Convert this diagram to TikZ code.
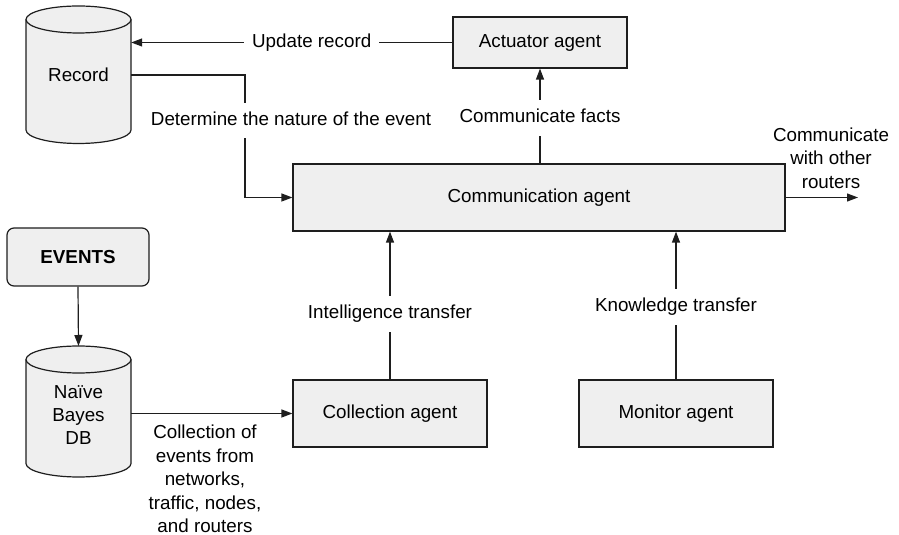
\documentclass[tikz,border=0pt]{standalone}
\usepackage{fontspec}
\setmainfont{Liberation Sans}
\usetikzlibrary{arrows.meta}
\definecolor{ink}{HTML}{1E1E1E}
\definecolor{boxgray}{HTML}{EFEFEF}
\begin{document}
\begin{tikzpicture}[x=1pt,y=1pt,
  font=\fontsize{18.8}{23.4}\selectfont,
  agent/.style={draw=ink, fill=boxgray, line width=1.2pt, inner sep=0pt},
  cyl/.style={draw=ink, fill=boxgray, line width=1.2pt},
  conn/.style={draw=ink, line width=1.2pt},
  arr/.style={conn, -{Triangle[length=11pt,width=8pt]}},
  lbl/.style={fill=white, inner xsep=8pt, inner ysep=9pt, text height=13.5pt, text depth=4pt},
  cyltext/.style={minimum width=105pt, inner sep=0pt, align=center},
  note/.style={align=center, inner sep=0pt}
]
\useasboundingbox (0,0) rectangle (899,535);

% database drums
\filldraw[cyl] (26,515.5) -- (26,405)
  arc[start angle=180,end angle=360,x radius=52.5,y radius=13.5]
  -- (131,515.5)
  arc[start angle=0,end angle=180,x radius=52.5,y radius=13.5] -- cycle;
\draw[cyl, fill=none] (26,515.5) arc[start angle=180,end angle=360,x radius=52.5,y radius=13.5];

\filldraw[cyl] (26,175.5) -- (26,71.5)
  arc[start angle=180,end angle=360,x radius=52.5,y radius=13.5]
  -- (131,175.5)
  arc[start angle=0,end angle=180,x radius=52.5,y radius=13.5] -- cycle;
\draw[cyl, fill=none] (26,175.5) arc[start angle=180,end angle=360,x radius=52.5,y radius=13.5];

\node[cyltext] (rec) at (78.5,460) {Record};
\node[cyltext] (nb) at (78.5,120) {Naïve\\Bayes\\DB};
\coordinate (nbtop) at (78.5,189);

% agents
\node[agent, minimum width=174pt, minimum height=51pt] (act) at (540,492.5) {Actuator agent};
\node[agent, minimum width=492pt, minimum height=67pt] (comm) at (539,337.5) {Communication agent};
\node[agent, minimum width=194pt, minimum height=67pt] (col) at (390,121.5) {Collection agent};
\node[agent, minimum width=194pt, minimum height=67pt] (mon) at (676,121.5) {Monitor agent};
\node[agent, rounded corners=7pt, minimum width=142pt, minimum height=58pt] (ev) at (78,278) {\bfseries EVENTS};

\coordinate (bend) at (245,460);
\coordinate (out) at (858,337.5);

% connectors
\draw[arr] (act.west) -- node[lbl, pos=0.438] {Update record} (rec.east |- act.west);
\draw[arr] (rec.east) -- (bend)
  -- node[lbl, pos=0.37, xshift=46pt] {Determine the nature of the event} (bend |- comm.west)
  -- (comm.west);
\draw[arr] (act.south |- comm.north) -- node[lbl, pos=0.479] {Communicate facts} (act.south);
\draw[arr] (comm.east) -- (out);
\draw[arr] (ev.south) -- (nbtop);
\draw[arr] (nb.east |- col.west) -- (col.west);
\draw[arr] (col.north) -- node[lbl, pos=0.443] {Intelligence transfer} (col.north |- comm.south);
\draw[arr] (mon.north) -- node[lbl, pos=0.49] {Knowledge transfer} (mon.north |- comm.south);

% free labels
\node[note] (routers) at (831,377) {Communicate\\with other\\routers};
\node[note] (events) at (205,56) {Collection of\\events from\\networks,\\traffic, nodes,\\and routers};
\end{tikzpicture}
\end{document}
